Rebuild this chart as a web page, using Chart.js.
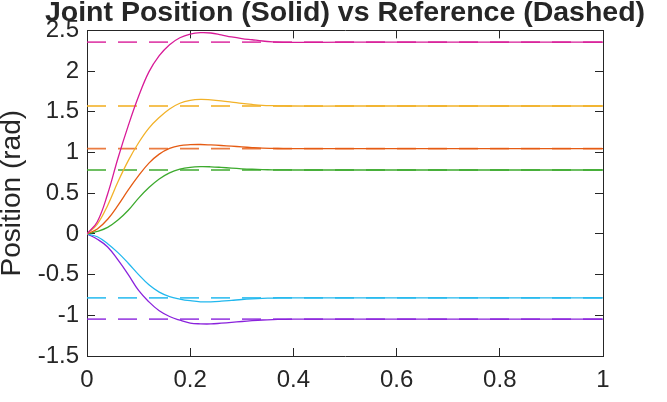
<!DOCTYPE html>
<html>
<head>
<meta charset="utf-8">
<script src="https://cdn.jsdelivr.net/npm/chart.js@4/dist/chart.umd.min.js"></script>
<style>
  html, body { margin: 0; padding: 0; background: #fff; }
  #wrap { width: 667px; height: 402px; position: relative; }
</style>
</head>
<body>
<div id="wrap"><canvas id="myChart"></canvas></div>
<script>
var titleText = "Joint Position (Solid) vs Reference (Dashed)";
var yTitle = "Position (rad)";

var time = [0, 0.02, 0.04, 0.06, 0.08, 0.10, 0.12, 0.14, 0.16, 0.18, 0.20,
            0.22, 0.24, 0.26, 0.28, 0.30, 0.32, 0.34, 0.36, 0.38, 0.40,
            0.5, 0.6, 0.7, 0.8, 0.9, 1.0];

var joint1 = [0, 0.15, 0.49, 0.93, 1.33, 1.69, 1.99, 2.19, 2.325, 2.41, 2.455,
              2.472, 2.468, 2.445, 2.42, 2.40, 2.385, 2.37, 2.36, 2.354, 2.352,
              2.355, 2.356, 2.356, 2.356, 2.356, 2.356];
var joint2 = [0, 0.12, 0.35, 0.64, 0.90, 1.12, 1.30, 1.43, 1.535, 1.605, 1.64,
              1.652, 1.646, 1.635, 1.62, 1.603, 1.59, 1.58, 1.575, 1.572, 1.571,
              1.571, 1.571, 1.571, 1.571, 1.571, 1.571];
var joint3 = [0, 0.06, 0.18, 0.35, 0.54, 0.715, 0.87, 0.98, 1.05, 1.085, 1.096,
              1.098, 1.093, 1.086, 1.078, 1.069, 1.06, 1.053, 1.05, 1.048, 1.047,
              1.047, 1.047, 1.047, 1.047, 1.047, 1.047];
var joint4 = [0, 0.03, 0.08, 0.17, 0.29, 0.44, 0.57, 0.675, 0.75, 0.795, 0.818,
              0.826, 0.824, 0.817, 0.808, 0.80, 0.794, 0.79, 0.787, 0.786, 0.785,
              0.785, 0.785, 0.785, 0.785, 0.785, 0.785];
var joint5 = [0, -0.035, -0.12, -0.23, -0.36, -0.50, -0.625, -0.715, -0.77, -0.80, -0.821,
              -0.835, -0.834, -0.827, -0.817, -0.806, -0.798, -0.792, -0.788, -0.786, -0.785,
              -0.785, -0.785, -0.785, -0.785, -0.785, -0.785];
var joint6 = [0, -0.065, -0.16, -0.32, -0.50, -0.695, -0.835, -0.945, -1.015, -1.06, -1.095,
              -1.105, -1.106, -1.097, -1.087, -1.076, -1.066, -1.058, -1.053, -1.05, -1.048,
              -1.047, -1.047, -1.047, -1.047, -1.047, -1.047];

var references = [2.356, 1.571, 1.047, 0.785, -0.785, -1.047];

var colors = ["#d81b98", "#f2b229", "#e55b13", "#3daa2e", "#22b8ee", "#8a22dc"];
var dashColors = ["rgba(216,27,152,0.8)", "rgba(242,178,41,0.8)", "rgba(229,91,19,0.8)",
                  "rgba(61,170,46,0.75)", "rgba(34,184,238,0.85)", "rgba(138,34,220,0.8)"];

var xTickLabels = ["0", "0.2", "0.4", "0.6", "0.8", "1"];
var yTickLabels = ["-1.5", "-1", "-0.5", "0", "0.5", "1", "1.5", "2", "2.5"];

var joints = [joint1, joint2, joint3, joint4, joint5, joint6];
var axisColor = "#262626";
var fontFamily = '"Liberation Sans", Arial, Helvetica, sans-serif';

var datasets = [];
joints.forEach(function(vals, i) {
  datasets.push({
    data: time.map(function(t, k) { return {x: t, y: vals[k]}; }),
    borderColor: colors[i],
    borderWidth: 1.3,
    pointRadius: 0,
    tension: 0.4,
    fill: false
  });
});
references.forEach(function(r, i) {
  datasets.push({
    data: [{x: 0, y: r}, {x: 1, y: r}],
    borderColor: dashColors[i],
    borderWidth: 1.8,
    borderDash: [19, 12],
    pointRadius: 0,
    fill: false
  });
});

// title sits partly above the canvas edge, like the source figure
var titlePlugin = {
  id: 'topTitle',
  afterDraw: function(chart) {
    var ctx = chart.ctx;
    var area = chart.chartArea;
    ctx.save();
    ctx.font = 'bold 28.5px ' + fontFamily;
    ctx.fillStyle = axisColor;
    ctx.textAlign = 'center';
    ctx.textBaseline = 'alphabetic';
    ctx.fillText(titleText, (area.left + area.right) / 2, 21);
    ctx.restore();
  }
};

function boxAxis(pos, size) {
  return {
    type: 'linear',
    position: pos,
    min: pos === 'top' ? 0 : -1.5,
    max: pos === 'top' ? 1 : 2.5,
    ticks: { display: false, stepSize: pos === 'top' ? 0.2 : 0.5 },
    grid: { display: true, drawOnChartArea: false, drawTicks: true, tickLength: -8, color: axisColor },
    border: { display: true, color: axisColor, width: 1 },
    afterFit: function(s) { if (pos === 'top') s.height = size; else s.width = size; }
  };
}

var ctx = document.getElementById("myChart");
var myChart = new Chart(ctx, {
  type: 'line',
  data: { datasets: datasets },
  plugins: [titlePlugin],
  options: {
    responsive: true,
    maintainAspectRatio: false,
    animation: false,
    layout: { padding: 0 },
    plugins: { legend: { display: false }, tooltip: { enabled: false }, title: { display: false } },
    scales: {
      x: {
        type: 'linear',
        position: 'bottom',
        min: 0, max: 1,
        ticks: {
          stepSize: 0.2,
          padding: 18,
          color: axisColor,
          font: { size: 24, family: fontFamily },
          maxRotation: 0,
          callback: function(v, i) { return xTickLabels[i]; }
        },
        grid: { display: true, drawOnChartArea: false, drawTicks: true, tickLength: -8, color: axisColor },
        border: { display: true, color: axisColor, width: 1 },
        afterFit: function(s) { s.height = 46; }
      },
      y: {
        type: 'linear',
        position: 'left',
        min: -1.5, max: 2.5,
        ticks: {
          stepSize: 0.5,
          padding: 16,
          color: axisColor,
          font: { size: 24, family: fontFamily },
          callback: function(v, i) { return yTickLabels[i]; }
        },
        title: {
          display: true,
          text: yTitle,
          color: axisColor,
          font: { size: 28, family: fontFamily },
          padding: { top: -5, bottom: 0 }
        },
        grid: { display: true, drawOnChartArea: false, drawTicks: true, tickLength: -8, color: axisColor },
        border: { display: true, color: axisColor, width: 1 },
        afterFit: function(s) { s.width = 87; }
      },
      x2: boxAxis('top', 30),
      y2: boxAxis('right', 64)
    }
  }
});
</script>
</body>
</html>
